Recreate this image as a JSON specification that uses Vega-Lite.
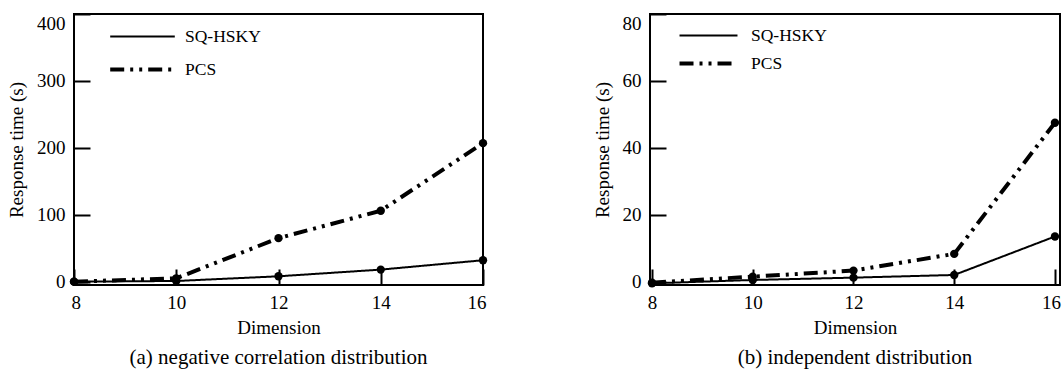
{
  "$schema": "https://vega.github.io/schema/vega-lite/v6.json",
  "background": "white",
  "padding": {"left": 6, "top": 12, "right": 0, "bottom": 0},
  "datasets": {
    "a": [
      {"dim": 8, "time": 0, "method": "SQ-HSKY"},
      {"dim": 10, "time": 1, "method": "SQ-HSKY"},
      {"dim": 12, "time": 8, "method": "SQ-HSKY"},
      {"dim": 14, "time": 18, "method": "SQ-HSKY"},
      {"dim": 16, "time": 32, "method": "SQ-HSKY"},
      {"dim": 8, "time": 0, "method": "PCS"},
      {"dim": 10, "time": 5, "method": "PCS"},
      {"dim": 12, "time": 65, "method": "PCS"},
      {"dim": 14, "time": 106, "method": "PCS"},
      {"dim": 16, "time": 207, "method": "PCS"}
    ],
    "b": [
      {"dim": 8, "time": -0.5, "method": "SQ-HSKY"},
      {"dim": 10, "time": 0.5, "method": "SQ-HSKY"},
      {"dim": 12, "time": 1.2, "method": "SQ-HSKY"},
      {"dim": 14, "time": 2, "method": "SQ-HSKY"},
      {"dim": 16, "time": 13.5, "method": "SQ-HSKY"},
      {"dim": 8, "time": -0.3, "method": "PCS"},
      {"dim": 10, "time": 1.5, "method": "PCS"},
      {"dim": 12, "time": 3.3, "method": "PCS"},
      {"dim": 14, "time": 8.3, "method": "PCS"},
      {"dim": 16, "time": 47.5, "method": "PCS"}
    ]
  },
  "config": {
    "view": {"stroke": "black", "strokeWidth": 2},
    "font": "Liberation Serif",
    "title": {"font": "Liberation Serif", "fontSize": 21, "fontWeight": "normal", "color": "black", "orient": "bottom", "anchor": "middle", "offset": 10},
    "axis": {
      "labelFont": "Liberation Serif", "labelFontSize": 19, "labelColor": "black",
      "titleFont": "Liberation Serif", "titleFontSize": 19, "titleFontWeight": "normal", "titleColor": "black",
      "domain": false,
      "tickColor": "black", "tickWidth": 2, "tickSize": 16, "offset": -16,
      "grid": false
    },
    "legend": {
      "labelFont": "Liberation Serif", "labelFontSize": 17.5, "labelColor": "black",
      "symbolStrokeColor": "black", "symbolFillColor": "transparent", "symbolStrokeWidth": 2
    }
  },
  "hconcat": [
    {
      "width": 409, "height": 271,
      "data": {"name": "a"},
      "title": "(a) negative correlation distribution",
      "encoding": {
        "x": {"field": "dim", "type": "quantitative", "scale": {"domain": [8, 16], "nice": false, "zero": false},
              "axis": {"values": [8, 10, 12, 14, 16], "labelPadding": 8, "labelFlush": true, "labelFlushOffset": 3, "title": "Dimension", "titlePadding": 6}},
        "y": {"field": "time", "type": "quantitative", "scale": {"domain": [-5, 400], "nice": false},
              "axis": {"values": [0, 100, 200, 300, 400], "labelPadding": 9, "labelFlush": true, "title": "Response time (s)", "titlePadding": 10}}
      },
      "layer": [
        {
          "mark": {"type": "line", "color": "black"},
          "encoding": {
            "strokeDash": {"field": "method", "type": "nominal", "sort": ["SQ-HSKY", "PCS"],
              "scale": {"domain": ["SQ-HSKY", "PCS"], "range": [[1, 0], [14, 6, 3, 6, 3, 6]]},
              "legend": {"title": null, "orient": "none", "legendX": 58, "legendY": 13, "symbolType": "M-3.8,0H3.8", "symbolSize": 289, "labelOffset": 32, "rowPadding": 14, "padding": 0}},
            "strokeWidth": {"field": "method", "type": "nominal", "sort": ["SQ-HSKY", "PCS"],
              "scale": {"domain": ["SQ-HSKY", "PCS"], "range": [2, 4]}}
          }
        },
        {
          "mark": {"type": "point", "filled": true, "color": "black", "opacity": 1, "size": 70},
          "encoding": {}
        }
      ]
    },
    {
      "width": 410, "height": 271,
      "data": {"name": "b"},
      "title": "(b) independent distribution",
      "encoding": {
        "x": {"field": "dim", "type": "quantitative", "scale": {"domain": [7.96, 16.1], "nice": false, "zero": false},
              "axis": {"values": [8, 10, 12, 14, 16], "labelPadding": 8, "labelOffset": {"condition": {"test": "datum.value == 16", "value": -4}, "value": 0}, "title": "Dimension", "titlePadding": 6}},
        "y": {"field": "time", "type": "quantitative", "scale": {"domain": [-1, 80], "nice": false},
              "axis": {"values": [0, 20, 40, 60, 80], "labelPadding": 9, "labelFlush": true, "title": "Response time (s)", "titlePadding": 10}}
      },
      "layer": [
        {
          "mark": {"type": "line", "color": "black"},
          "encoding": {
            "strokeDash": {"field": "method", "type": "nominal", "sort": ["SQ-HSKY", "PCS"],
              "scale": {"domain": ["SQ-HSKY", "PCS"], "range": [[1, 0], [14, 6, 3, 6, 3, 6]]},
              "legend": {"title": null, "orient": "none", "legendX": 48, "legendY": 12, "symbolType": "M-3.41,0H3.41", "symbolSize": 289, "labelOffset": 32, "rowPadding": 9, "padding": 0}},
            "strokeWidth": {"field": "method", "type": "nominal", "sort": ["SQ-HSKY", "PCS"],
              "scale": {"domain": ["SQ-HSKY", "PCS"], "range": [2, 4]}}
          }
        },
        {
          "mark": {"type": "point", "filled": true, "color": "black", "opacity": 1, "size": 70},
          "encoding": {}
        }
      ]
    }
  ],
  "spacing": 100,
  "resolve": {"scale": {"x": "independent", "y": "independent", "strokeDash": "independent", "strokeWidth": "independent"}, "legend": {"strokeDash": "independent", "strokeWidth": "independent"}}
}
